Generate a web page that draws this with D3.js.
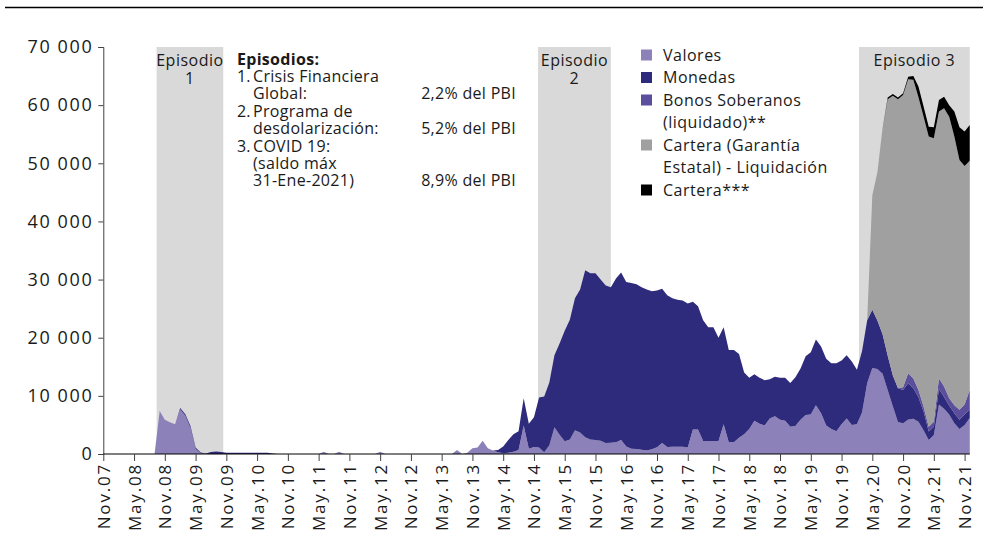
<!DOCTYPE html>
<html>
<head>
<meta charset="utf-8">
<script src="https://cdn.jsdelivr.net/npm/d3@7"></script>
<style>
  body { margin: 0; background: #fff; }
  text { font-family: "Open Sans", sans-serif; fill: #1a1a1a; }
</style>
</head>
<body>
<div id="chart"></div>
<script>
// month index 0 = Nov.07 ... 169 = Dic.21
const valores = [
  0, 0, 0, 0, 0, 0, 0, 0, 0, 0,
  0, 7400, 5900, 5450, 5100, 7700, 6600, 4500, 900, 150,
  0, 0, 0, 0, 0, 0, 0, 0, 0, 0,
  0, 0, 0, 0, 0, 0, 0, 0, 0, 0,
  0, 0, 0, 400, 0, 0, 400, 0, 0, 0,
  0, 0, 0, 0, 400, 0, 0, 0, 0, 0,
  0, 0, 0, 0, 0, 0, 0, 0, 0, 700,
  0, 200, 1000, 1100, 2300, 1000, 600, 300, 150, 200,
  400, 700, 4900, 900, 1200, 1100, 300, 1500, 4600, 3300,
  2200, 2500, 4100, 3700, 2900, 2500, 2400, 2300, 1900, 1950,
  2000, 2400, 1300, 900, 850, 750, 600, 800, 1150, 1900,
  1200, 1250, 1250, 1250, 1100, 4200, 4200, 2250, 2250, 2250,
  2250, 5100, 2000, 2000, 2800, 3400, 4300, 5700, 5200, 4900,
  6100, 6500, 5900, 5700, 4700, 4800, 5900, 6700, 6800, 8400,
  7000, 4900, 4300, 3900, 5100, 6100, 5000, 5100, 7200, 12200,
  14800, 14600, 13800, 11000, 8200, 5500, 5300, 5950, 6050, 5550,
  4100, 2400, 3250, 8500, 7800, 6800, 5300, 4300, 5000, 6200
];
const monedas = [
  0, 0, 0, 0, 0, 0, 0, 0, 0, 0,
  0, 0, 0, 0, 0, 200, 250, 300, 200, 100,
  100, 350, 450, 350, 200, 200, 200, 200, 200, 200,
  200, 200, 200, 100, 0, 0, 0, 0, 0, 0,
  0, 0, 0, 0, 0, 0, 0, 0, 0, 0,
  0, 0, 0, 0, 0, 0, 0, 0, 0, 0,
  0, 0, 0, 0, 0, 0, 0, 0, 0, 0,
  0, 0, 0, 0, 0, 0, 0, 400, 1150, 2200,
  3000, 3200, 4700, 4300, 5100, 8600, 9600, 10800, 12400, 15700,
  19000, 20600, 22700, 24600, 28700, 28600, 28700, 27700, 27100, 26750,
  28200, 28800, 28300, 28500, 28350, 27950, 27700, 27200, 26950, 26500,
  26100, 25550, 25300, 25150, 24800, 22000, 21200, 20750, 19550, 19550,
  17750, 16700, 15900, 15900, 14400, 10600, 8800, 8000, 7900, 7800,
  6750, 6800, 7200, 7400, 7500, 8400, 8800, 10100, 10700, 11300,
  11500, 11500, 11300, 11700, 11000, 10900, 10900, 9400, 10500, 10800,
  10000, 8300, 6800, 5900, 5300, 5800, 5700, 6200, 5250, 4200,
  3200, 1450, 1450, 2700, 2000, 1500, 1700, 1600, 1800, 1400
];
// series that only start late: values from the given month on
const bonosDesde = 156;
const bonos = [500, 1750, 1700, 1250, 850, 850, 850, 1800, 1800, 1300, 1400, 1700, 1700, 3400];
const garantiaDesde = 150;
const garantia = [19700, 25600, 35200, 44100, 48100, 49700, 50250, 50550, 51350, 50350,
  49850, 49900, 48750, 45900, 47850, 48400, 46200, 42950, 41050, 39450];
const carteraDesde = 152;
const cartera = [100, 300, 300, 300, 300, 450, 650, 1850, 1750, 1700, 1900, 2000, 2000, 2000,
  4300, 5650, 5900, 6150];

const xLabels = ["Nov.07", "May.08", "Nov.08", "May.09", "Nov.09", "May.10", "Nov.10", "May.11",
  "Nov.11", "May.12", "Nov.12", "May.13", "Nov.13", "May.14", "Nov.14", "May.15", "Nov.15",
  "May.16", "Nov.16", "May.17", "Nov.17", "May.18", "Nov.18", "May.19", "Nov.19", "May.20",
  "Nov.20", "May.21", "Nov.21"];
const yTicks = [0, 10000, 20000, 30000, 40000, 50000, 60000, 70000];

const episodes = [
  {name: ["Episodio", "1"], from: 10.4, to: 23.4},
  {name: ["Episodio", "2"], from: 84.8, to: 99},
  {name: ["Episodio 3"], from: 147.4, to: 169}
];

const seriesNames = ["Valores", "Monedas", "Bonos Soberanos (liquidado)**",
  "Cartera (Garantía Estatal) - Liquidación", "Cartera***"];
const colors = ["#8c82b9", "#2e2a7c", "#5b4f9d", "#a0a0a0", "#000000"];

const notes = [
  {n: "1.", t: "Crisis Financiera", v: ""},
  {n: "", t: "Global:", v: "2,2% del PBI"},
  {n: "2.", t: "Programa de", v: ""},
  {n: "", t: "desdolarización:", v: "5,2% del PBI"},
  {n: "3.", t: "COVID 19:", v: ""},
  {n: "", t: "(saldo máx", v: ""},
  {n: "", t: "31-Ene-2021)", v: "8,9% del PBI"}
];

const legendRows = [
  {lines: ["Valores"], c: 0},
  {lines: ["Monedas"], c: 1},
  {lines: ["Bonos Soberanos", "(liquidado)**"], c: 2},
  {lines: ["Cartera (Garantía", "Estatal) - Liquidación"], c: 3},
  {lines: ["Cartera***"], c: 4}
];

// build table
const pad = (arr, from) => valores.map((_, i) => (i >= from && i - from < arr.length) ? arr[i - from] : 0);
const cols = [valores, monedas, pad(bonos, bonosDesde), pad(garantia, garantiaDesde), pad(cartera, carteraDesde)];
const table = valores.map((_, i) => {
  const row = {m: i};
  seriesNames.forEach((k, j) => row[k] = cols[j][i]);
  return row;
});

const width = 983, height = 547;
const svg = d3.select("#chart").append("svg")
  .attr("width", width).attr("height", height);

const x = d3.scaleLinear().domain([0, 168]).range([103.3, 964.6]);
const y = d3.scaleLinear().domain([0, 70000]).range([454, 47]);

// top rule
svg.append("line").attr("x1", 5).attr("x2", 983).attr("y1", 7.5).attr("y2", 7.5)
  .attr("stroke", "#000").attr("stroke-width", 1.5);

// episode shading
svg.selectAll("rect.ep").data(episodes).enter().append("rect")
  .attr("class", "ep")
  .attr("x", d => x(d.from)).attr("width", d => x(d.to) - x(d.from))
  .attr("y", y(70000)).attr("height", y(0) - y(70000))
  .attr("fill", "#d9d9d9");

// areas
const stack = d3.stack().keys(seriesNames);
const layers = stack(table);
const area = d3.area()
  .x(d => x(d.data.m))
  .y0(d => y(d[0]))
  .y1(d => y(d[1]));
svg.selectAll("path.layer").data(layers).enter().append("path")
  .attr("class", "layer")
  .attr("d", area)
  .attr("fill", (d, i) => colors[i]);

// episode labels
episodes.forEach(ep => {
  const cx = (x(ep.from) + x(ep.to)) / 2;
  ep.name.forEach((s, i) => {
    svg.append("text").attr("x", cx).attr("y", 66 + i * 18)
      .attr("text-anchor", "middle").style("font-size", "16px")
      .style("letter-spacing", "0.5px").text(s);
  });
});

// axes
const yAxis = svg.append("g").attr("transform", "translate(103.3,0)")
  .call(d3.axisLeft(y).tickValues(yTicks).tickSize(5).tickPadding(5)
    .tickFormat(d => d3.format(",")(d).replace(/,/g, " ")));
yAxis.select(".domain").attr("stroke", "#404040");
yAxis.selectAll(".tick line").attr("stroke", "#404040");
yAxis.selectAll("text").style("font-size", "18px").style("letter-spacing", "1.6px")
  .style("font-family", "'Open Sans', sans-serif").attr("fill", "#1a1a1a");

const xAxis = svg.append("g").attr("transform", "translate(0,454)")
  .call(d3.axisBottom(x).tickValues(xLabels.map((_, i) => i * 6)).tickSize(7)
    .tickFormat((d, i) => xLabels[i]));
xAxis.select(".domain").attr("d", "M103.3,0H969.8").attr("stroke", "#000");
xAxis.selectAll(".tick line").attr("stroke", "#404040");
xAxis.selectAll("text")
  .style("font-size", "17px").style("letter-spacing", "1.8px")
  .style("font-family", "'Open Sans', sans-serif").attr("fill", "#1a1a1a")
  .attr("text-anchor", "end")
  .attr("transform", "rotate(-90)")
  .attr("x", -9).attr("y", 0).attr("dy", "0.35em");

// notes
svg.append("text").attr("x", 237).attr("y", 65)
  .style("font-size", "16px").style("font-weight", "bold")
  .style("letter-spacing", "0.3px").text("Episodios:");
notes.forEach((n, i) => {
  const ty = 82 + i * 17.4;
  if (n.n) {
    svg.append("text").attr("x", 237).attr("y", ty)
      .style("font-size", "16px").text(n.n);
  }
  svg.append("text").attr("x", 253).attr("y", ty)
    .style("font-size", "16px").style("letter-spacing", "0.3px").text(n.t);
  if (n.v) {
    svg.append("text").attr("x", 516).attr("y", ty)
      .attr("text-anchor", "end").style("font-size", "16px")
      .style("letter-spacing", "0.3px").text(n.v);
  }
});

// legend
let ly = 55;
legendRows.forEach(r => {
  svg.append("rect").attr("x", 641).attr("y", ly - 5.5).attr("width", 11).attr("height", 11)
    .attr("fill", colors[r.c]);
  r.lines.forEach((s, i) => {
    svg.append("text").attr("x", 663).attr("y", ly + 5.5 + i * 22.5)
      .style("font-size", "16px").style("letter-spacing", "0.5px").text(s);
  });
  ly += 22.5 * r.lines.length;
});
</script>
</body>
</html>
